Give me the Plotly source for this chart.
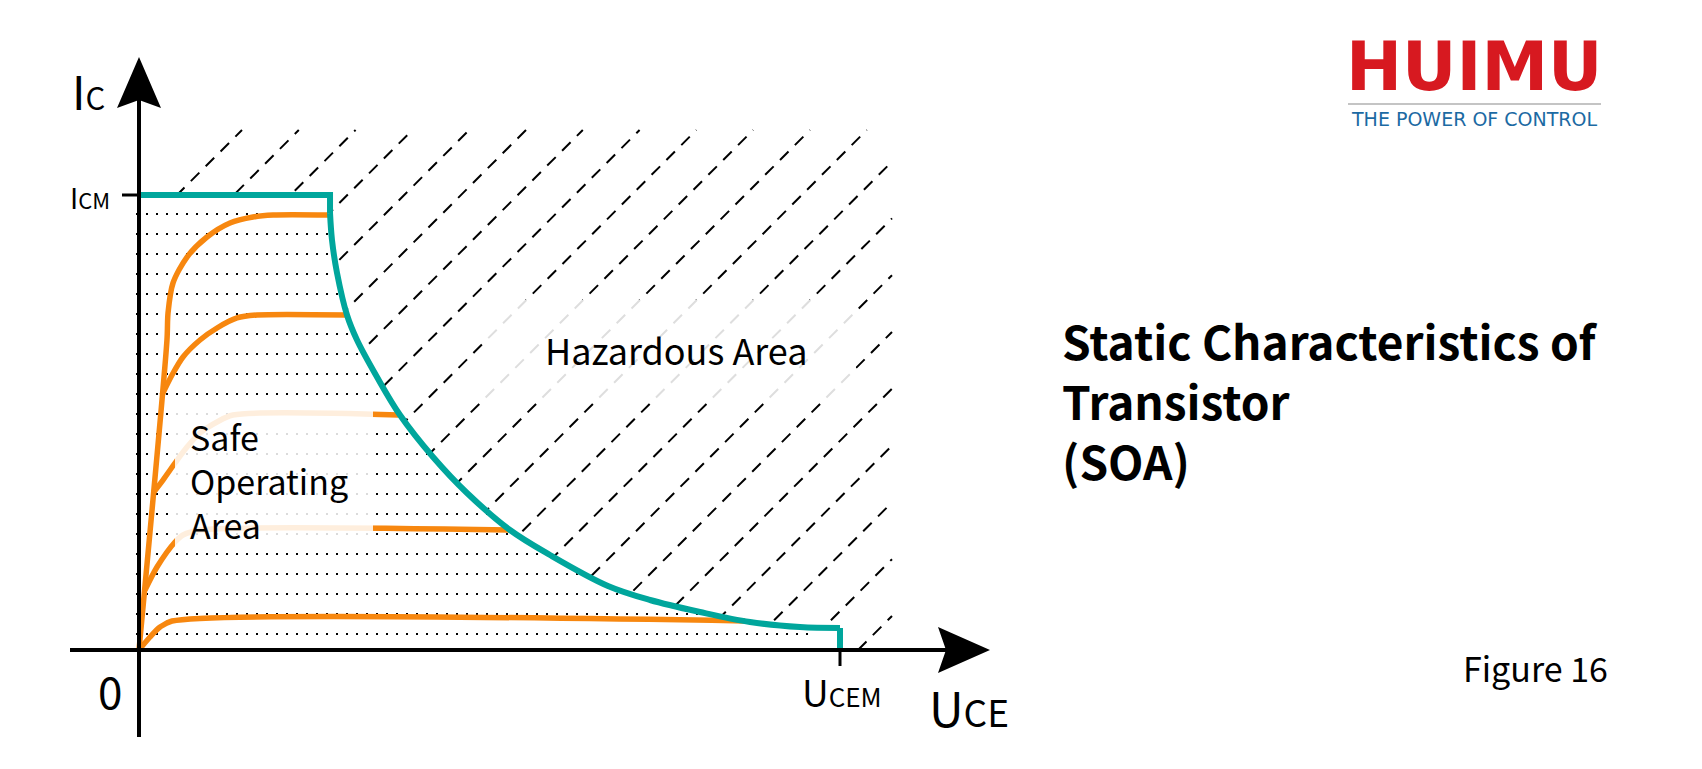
import numpy as np
import plotly.graph_objects as go

# ---------------- data (U = Uce / UCEM, I = Ic / ICM) ----------------
ICM = 1.0
UCEM = 1.0

# SOA boundary: flat ICM limit, then power-limited curve down to UCEM
soa_top_u = [0.0, 0.2725, 0.2725]
soa_top_i = [1.0, 1.0, 0.9604]
soa_curve_u = [0.2725, 0.2753, 0.2825, 0.2967, 0.3110, 0.3395, 0.3723, 0.4194, 0.4679,
               0.5292, 0.5863, 0.6690, 0.7290, 0.8003, 0.8716, 0.9429, 1.0]
soa_curve_i = [0.9604, 0.9011, 0.8286, 0.7363, 0.6813, 0.6000, 0.5165, 0.4242, 0.3451,
               0.2637, 0.2088, 0.1407, 0.1099, 0.0835, 0.0615, 0.0505, 0.0484]
soa_end_u = [1.0, 1.0]
soa_end_i = [0.0484, 0.0]

# output characteristic curves (different base currents)
curve1_u = [0.0, 0.0399, 0.0414, 0.0485, 0.0685, 0.0970, 0.1298, 0.1626, 0.1912, 0.2700]
curve1_i = [0.0, 0.6813, 0.7407, 0.8066, 0.8637, 0.9077, 0.9385, 0.9516, 0.9560, 0.9560]
curve2_u = [0.0328, 0.0471, 0.0628, 0.0870, 0.1113, 0.1398, 0.1683, 0.2960]
curve2_i = [0.5604, 0.6044, 0.6440, 0.6813, 0.7077, 0.7297, 0.7363, 0.7363]
curve3_u = [0.0200, 0.0342, 0.0514, 0.0685, 0.0870, 0.1113, 0.1341, 0.3700]
curve3_i = [0.3451, 0.3736, 0.4110, 0.4462, 0.4769, 0.5011, 0.5165, 0.5165]
curve4_u = [0.0086, 0.0257, 0.0514, 0.0628, 0.0870, 0.5292]
curve4_i = [0.1319, 0.1824, 0.2374, 0.2527, 0.2637, 0.2637]
curve5_u = [0.0, 0.0157, 0.0300, 0.0471, 0.8645]
curve5_i = [0.0, 0.0286, 0.0505, 0.0637, 0.0637]
curves = [(curve1_u, curve1_i), (curve2_u, curve2_i), (curve3_u, curve3_i),
          (curve4_u, curve4_i), (curve5_u, curve5_i)]

tick_labels = {"icm": "I<span style='font-size:22px'>CM</span>",
               "ucem": "U<span style='font-size:26px'>CEM</span>",
               "zero": "0"}

# ---------------- frame / styling ----------------
W, H = 1702, 769
X0, Y0, SX, SY = 139, 650, 701, 455        # origin position and pixels per unit
ORANGE = "#f7870f"
TEAL = "#00a69c"
FONT = "Noto Sans CJK SC"


def U(px):
    return (px - X0) / SX


def I(py):
    return (Y0 - py) / SY


fig = go.Figure()

# hazard hatch: dashed 45-degree lines inside a frame, SOA masked afterwards
hu_l, hu_r, hi_t = U(176), U(892), I(130)
hx, hy = [], []
for k in range(0, 22):
    c = -417 + 56.8 * k
    ua = max(hu_l, c / SX)
    ub = min(hu_r, (c + SY * hi_t) / SX)
    if ua < ub:
        hx += [ua, ub, None]
        hy += [(SX * ua - c) / SY, (SX * ub - c) / SY, None]
fig.add_trace(go.Scatter(x=hx, y=hy, mode="lines",
                         line=dict(color="black", width=2, dash="12px,9px"),
                         hoverinfo="skip"))

# white mask of SOA
mask_u = [0.0] + soa_top_u + soa_curve_u[1:] + soa_end_u[1:] + [0.0]
mask_i = [0.0] + soa_top_i + soa_curve_i[1:] + soa_end_i[1:] + [0.0]
fig.add_trace(go.Scatter(x=mask_u, y=mask_i, mode="lines", fill="toself",
                         fillcolor="white", line=dict(width=0), hoverinfo="skip"))

# dotted rows inside SOA
row_i = I(214) - (20 / SY) * np.arange(22)
row_end = np.interp(row_i, soa_curve_i[::-1], soa_curve_u[::-1])
row_end = np.where(row_i < soa_curve_i[-1], U(808), row_end)
dx, dy = [], []
for ri, re in zip(row_i, row_end):
    dx += [U(136), re, None]
    dy += [ri, ri, None]
fig.add_trace(go.Scatter(x=dx, y=dy, mode="lines",
                         line=dict(color="black", width=2, dash="2px,8px"),
                         hoverinfo="skip"))

# orange characteristic curves
for cu, ci in curves:
    fig.add_trace(go.Scatter(x=cu, y=ci, mode="lines",
                             line=dict(color=ORANGE, width=5.5, shape="spline", smoothing=0.8),
                             hoverinfo="skip"))

# teal SOA boundary
fig.add_trace(go.Scatter(x=soa_top_u, y=soa_top_i, mode="lines",
                         line=dict(color=TEAL, width=6), hoverinfo="skip"))
fig.add_trace(go.Scatter(x=soa_curve_u, y=soa_curve_i, mode="lines",
                         line=dict(color=TEAL, width=6, shape="spline", smoothing=1),
                         hoverinfo="skip"))
fig.add_trace(go.Scatter(x=soa_end_u, y=soa_end_i, mode="lines",
                         line=dict(color=TEAL, width=6), hoverinfo="skip"))

shapes = []
# translucent boxes behind the area labels
shapes.append(dict(type="rect", xref="x", yref="y", x0=U(485), x1=U(856), y0=I(300), y1=I(400),
                   fillcolor="rgba(255,255,255,0.87)", line=dict(width=0), layer="above"))
shapes.append(dict(type="rect", xref="x", yref="y", x0=U(175), x1=U(373), y0=I(405), y1=I(547),
                   fillcolor="rgba(255,255,255,0.86)", line=dict(width=0), layer="above"))
# axes
shapes.append(dict(type="line", xref="x", yref="y", x0=0, x1=0, y0=I(737), y1=I(100),
                   line=dict(color="black", width=4), layer="above"))
shapes.append(dict(type="line", xref="x", yref="y", x0=U(70), x1=U(948), y0=0, y1=0,
                   line=dict(color="black", width=4), layer="above"))
shapes.append(dict(type="path", xref="x", yref="y", layer="above",
                   path=f"M {U(139)},{I(57)} L {U(161)},{I(108)} L {U(139)},{I(100)} L {U(117)},{I(108)} Z",
                   fillcolor="black", line=dict(width=0)))
shapes.append(dict(type="path", xref="x", yref="y", layer="above",
                   path=f"M {U(990)},{I(650)} L {U(938)},{I(673)} L {U(946)},{I(650)} L {U(938)},{I(627)} Z",
                   fillcolor="black", line=dict(width=0)))
# ticks
shapes.append(dict(type="line", xref="x", yref="y", x0=U(122), x1=0, y0=ICM, y1=ICM,
                   line=dict(color="black", width=3), layer="above"))
shapes.append(dict(type="line", xref="x", yref="y", x0=UCEM, x1=UCEM, y0=0, y1=I(666),
                   line=dict(color="black", width=3), layer="above"))
# logo rule
shapes.append(dict(type="line", xref="paper", yref="paper", x0=1348 / W, x1=1601 / W,
                   y0=1 - 104 / H, y1=1 - 104 / H, line=dict(color="#b0b0b0", width=1.5)))


def px(xp):
    return xp / W


def py(yp):
    return 1 - yp / H


ann = []
lab = dict(family=FONT, color="black")
ann.append(dict(x=px(88), y=py(90), text="I<span style='font-size:31px'>C</span>",
                font=dict(size=46, **lab), xanchor="center", yanchor="middle"))
ann.append(dict(x=px(112), y=py(197), text=tick_labels["icm"],
                font=dict(size=28, **lab), xanchor="right", yanchor="middle"))
ann.append(dict(x=px(110), y=py(690), text=tick_labels["zero"],
                font=dict(size=44, **lab), xanchor="center", yanchor="middle"))
ann.append(dict(x=px(842), y=py(691), text=tick_labels["ucem"],
                font=dict(size=37, **lab), xanchor="center", yanchor="middle"))
ann.append(dict(x=px(969), y=py(706), text="U<span style='font-size:37px'>CE</span>",
                font=dict(size=48, **lab), xanchor="center", yanchor="middle"))
ann.append(dict(x=px(676), y=py(349), text="Hazardous Area",
                font=dict(size=36, family=FONT, color="black"), xanchor="center", yanchor="middle"))
ann.append(dict(x=px(188), y=py(480), text="Safe<br>Operating<br>Area", align="left",
                font=dict(size=34, family=FONT, color="black"),
                xanchor="left", yanchor="middle"))
ann.append(dict(x=px(1060), y=py(400), text="Static Characteristics of<br>Transistor<br>(SOA)",
                align="left", font=dict(size=46, family=FONT, color="black", weight="bold"),
                xanchor="left", yanchor="middle"))
ann.append(dict(x=px(1610), y=py(667), text="Figure 16",
                font=dict(size=34, family=FONT, color="black"), xanchor="right", yanchor="middle"))
ann.append(dict(x=px(1474), y=py(67), text="HUIMU",
                font=dict(size=67, family="DejaVu Sans", color="#d71920", weight="bold"),
                xanchor="center", yanchor="middle"))
ann.append(dict(x=px(1474), y=py(119), text="THE POWER OF CONTROL",
                font=dict(size=19, family="DejaVu Sans", color="#1c6aa3"),
                xanchor="center", yanchor="middle"))
for a in ann:
    a.update(xref="paper", yref="paper", showarrow=False)

fig.update_layout(
    width=W, height=H, autosize=False,
    margin=dict(l=0, r=0, t=0, b=0, pad=0),
    paper_bgcolor="white", plot_bgcolor="white",
    showlegend=False,
    xaxis=dict(range=[U(0), U(W)], visible=False, fixedrange=True),
    yaxis=dict(range=[I(H), I(0)], visible=False, fixedrange=True),
    shapes=shapes, annotations=ann,
)

fig.write_html("out.html", config={"displayModeBar": False})
